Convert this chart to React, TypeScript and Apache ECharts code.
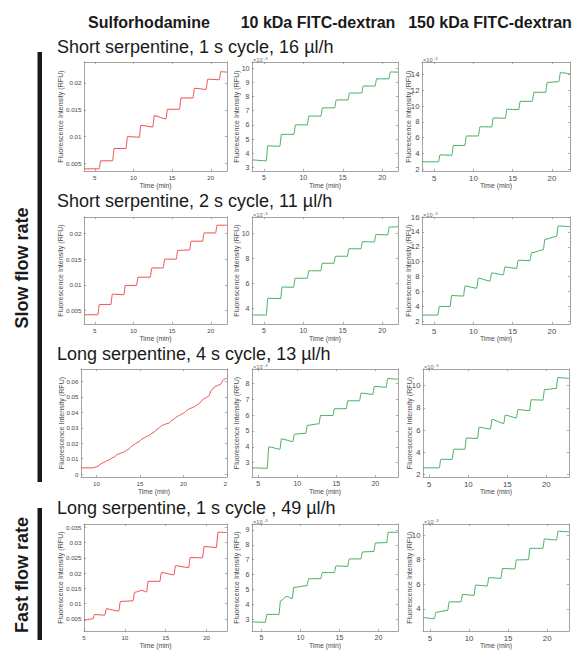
import React, { useEffect, useRef } from 'react';
import * as echarts from 'echarts';

// ---------- texts ----------
const columnTitles = ['Sulforhodamine', '10 kDa FITC-dextran', '150 kDa FITC-dextran'];
const rowTitles = [
  'Short serpentine, 1 s cycle, 16 µl/h',
  'Short serpentine, 2 s cycle, 11 µl/h',
  'Long serpentine, 4 s cycle, 13 µl/h',
  'Long serpentine, 1 s cycle , 49 µl/h',
];
const groupLabels = ['Slow flow rate', 'Fast flow rate'];
const xName = 'Time (min)';
const yName = 'Fluorescence Intensity (RFU)';

// ---------- tick labels ----------
const xTicks = [5, 10, 15, 20];
const xTicksLong = [10, 15, 20, 25];
const sulfoTicksShort = [0.005, 0.01, 0.015, 0.02];
const sulfoTicksLong4 = [0, 0.01, 0.02, 0.03, 0.04, 0.05, 0.06];
const sulfoTicksLong1 = [0.005, 0.01, 0.015, 0.02, 0.025, 0.03, 0.035];
const kda10TicksShort1 = [3, 4, 5, 6, 7, 8, 9, 10];
const kda10TicksShort2 = [4, 6, 8, 10];
const kda10TicksLong4 = [3, 4, 5, 6, 7, 8];
const kda10TicksLong1 = [3, 4, 5, 6, 7, 8, 9];
const kda150TicksShort1 = [2, 4, 6, 8, 10, 12, 14];
const kda150TicksShort2 = [2, 4, 6, 8, 10, 12, 14, 16];
const kda150TicksLong4 = [2, 4, 6, 8, 10];
const kda150TicksLong1 = [4, 6, 8, 10];

// ---------- axis extents (time in min, intensity in RFU or x10^-3 RFU) ----------
const sulfoShort1X = [3.6, 22.1];
const sulfoShort1Y = [0.0036, 0.0239];
const kda10Short1X = [3.5, 22.0];
const kda10Short1Y = [2.74, 10.44];
const kda150Short1X = [3.45, 22.3];
const kda150Short1Y = [1.75, 15.6];
const sulfoShort2X = [3.6, 22.1];
const sulfoShort2Y = [0.0024, 0.0232];
const kda10Short2X = [3.5, 22.0];
const kda10Short2Y = [2.74, 11.3];
const kda150Short2X = [3.45, 22.3];
const kda150Short2Y = [1.65, 16];
const sulfoLong4X = [8.22, 25];
const sulfoLong4Y = [-0.0018, 0.068];
const kda10Long4X = [4.2, 22.9];
const kda10Long4Y = [2.1, 8.9];
const kda150Long4X = [4.2, 22.9];
const kda150Long4Y = [1.78, 11.5];
const sulfoLong1X = [5, 22.5];
const sulfoLong1Y = [0.001, 0.0361];
const kda10Long1X = [3.8, 22.5];
const kda10Long1Y = [2.2, 9.4];
const kda150Long1X = [4.1, 22.8];
const kda150Long1Y = [2.2, 10.9];

// ---------- step data: T = step times (min), A = plateau start level, B = plateau end level ----------
const sulfoShort1T = [5.56, 7.3, 9.03, 10.75, 12.5, 14.2, 15.95, 17.7, 19.4, 21.1];
const sulfoShort1A = [0.004, 0.0055, 0.0078, 0.01, 0.0121, 0.0139, 0.0151, 0.0172, 0.019, 0.0207, 0.0221];
const sulfoShort1B = [0.004, 0.0055, 0.0078, 0.0099, 0.0118, 0.0133, 0.0151, 0.0172, 0.0188, 0.0206, 0.022];

const kda10Short1T = [5.3, 7.03, 8.81, 10.5, 12.23, 13.97, 15.66, 17.4, 19.09, 20.83];
const kda10Short1A = [3.53, 4.52, 5.33, 6.0, 6.62, 7.2, 7.76, 8.25, 8.75, 9.25, 9.74];
const kda10Short1B = [3.46, 4.49, 5.33, 6.0, 6.62, 7.2, 7.76, 8.25, 8.74, 9.25, 9.72];

const kda150Short1T = [5.55, 7.25, 8.9, 10.63, 12.33, 14.06, 15.76, 17.5, 19.2, 20.88];
const kda150Short1A = [2.92, 3.8, 5.0, 6.2, 7.37, 8.5, 9.6, 10.6, 11.75, 13.0, 14.25];
const kda150Short1B = [2.92, 3.75, 5.0, 6.2, 7.35, 8.45, 9.55, 10.6, 11.75, 13.1, 14.1];

const sulfoShort2T = [5.39, 7.07, 8.75, 10.39, 12.17, 13.85, 15.53, 17.26, 18.94, 20.62];
const sulfoShort2A = [0.0042, 0.0062, 0.0082, 0.0099, 0.0115, 0.0133, 0.015, 0.0167, 0.0185, 0.0201, 0.0216];
const sulfoShort2B = [0.0042, 0.0062, 0.0081, 0.0099, 0.0115, 0.0133, 0.015, 0.0168, 0.0185, 0.0201, 0.0216];

const kda10Short2T = [5.3, 7.12, 8.77, 10.5, 12.2, 13.88, 15.58, 17.3, 19.0, 20.7];
const kda10Short2A = [3.47, 4.8, 5.7, 6.4, 7.0, 7.6, 8.16, 8.76, 9.33, 9.9, 10.5];
const kda10Short2B = [3.45, 4.78, 5.68, 6.4, 7.0, 7.6, 8.16, 8.76, 9.3, 9.87, 10.52];

const kda150Short2T = [5.47, 7.03, 8.73, 10.42, 12.12, 13.81, 15.5, 17.2, 18.9, 20.59];
const kda150Short2A = [2.85, 4.0, 5.47, 6.75, 7.8, 8.5, 9.3, 10.2, 11.2, 13.0, 14.8];
const kda150Short2B = [2.85, 4.0, 5.4, 6.45, 7.4, 8.25, 9.1, 10.15, 11.6, 13.4, 14.7];

const sulfoLong4Points = [
  [8.22, 0.0041], [9.61, 0.0041], [10.0, 0.0048], [10.77, 0.0074], [11.34, 0.0091], [11.92, 0.0108],
  [12.49, 0.013], [13.07, 0.0141], [13.64, 0.016], [14.22, 0.0189], [14.8, 0.0208], [15.37, 0.0232],
  [15.95, 0.0249], [16.53, 0.0269], [17.1, 0.0297], [17.68, 0.0319], [18.26, 0.0329], [18.84, 0.0355],
  [19.41, 0.0377], [19.99, 0.0394], [20.57, 0.042], [21.14, 0.0433], [21.72, 0.0453], [22.3, 0.0486],
  [22.87, 0.0503], [23.26, 0.0546], [23.64, 0.0568], [24.22, 0.0579], [24.6, 0.0611], [24.99, 0.0622],
];

const kda10Long4T = [6.15, 7.77, 9.43, 11.08, 12.78, 14.57, 16.27, 17.97, 19.67, 21.38];
const kda10Long4A = [2.68, 4.0, 4.5, 4.8, 5.35, 5.97, 6.4, 6.9, 7.38, 7.8, 8.3];
const kda10Long4B = [2.65, 3.85, 4.33, 4.85, 5.45, 5.97, 6.4, 6.9, 7.3, 7.75, 8.25];

const kda150Long4T = [6.28, 7.94, 9.56, 11.18, 12.84, 14.54, 16.16, 17.86, 19.56, 21.27];
const kda150Long4A = [2.6, 3.37, 4.28, 5.29, 6.26, 6.96, 7.35, 7.85, 8.73, 9.64, 10.73];
const kda150Long4B = [2.6, 3.37, 4.28, 5.25, 6.1, 6.6, 7.1, 7.75, 8.7, 9.75, 10.65];

const sulfoLong1T = [6.1, 7.54, 9.25, 11.0, 12.65, 14.28, 16.0, 17.8, 19.5, 21.2];
const sulfoLong1A = [0.0045, 0.0064, 0.0083, 0.0107, 0.0137, 0.0173, 0.0202, 0.0224, 0.0251, 0.0287, 0.0334];
const sulfoLong1B = [0.005, 0.0062, 0.0075, 0.0109, 0.0138, 0.0173, 0.0194, 0.0218, 0.025, 0.0284, 0.0333];
const sulfoLong1Extra = [[12.1, 0.0143]];

const kda10Long1T = [5.5, 7.25, 8.95, 10.85, 12.6, 14.35, 16.05, 17.75, 19.4, 21.05];
const kda10Long1A = [2.82, 3.32, 4.22, 5.13, 5.72, 6.13, 6.58, 7.05, 7.52, 8.12, 8.84];
const kda10Long1B = [2.78, 3.32, 4.38, 5.25, 5.72, 6.13, 6.55, 7.05, 7.55, 8.15, 8.84];
const kda10Long1Extra = [[8.25, 4.53]];

const kda150Long1T = [5.55, 7.26, 8.96, 10.63, 12.33, 14.08, 15.87, 17.6, 19.45, 21.2];
const kda150Long1A = [3.31, 3.72, 4.57, 5.17, 5.93, 6.54, 7.28, 7.98, 8.92, 9.68, 10.31];
const kda150Long1B = [3.2, 3.88, 4.57, 5.1, 5.86, 6.48, 7.25, 8.0, 8.92, 9.6, 10.26];

// ---------- styles / layout ----------
const FONT = '"Liberation Sans", Arial, Helvetica, sans-serif';
const RED = '#ec3a37';
const GREEN = '#2fa74b';
const AXIS = '#8c8c8c';
const LABEL = '#4a4a4a';
const RISE = 0.2;

const colLeft = [84, 252, 422];
const colWidth = [143, 146, 148];
const rowTop = [62, 217, 369, 524];
const rowHeight = [109, 107, 108, 107];
const tickFont = [6.2, 7, 7.8];
const yNameGap = [19.5, 11.5, 9.5];

function stairs(T: number[], A: number[], B: number[], ext: number[], extra: number[][] = []) {
  const pts: number[][] = [[ext[0], A[0]]];
  T.forEach((t, i) => {
    pts.push([t, B[i]]);
    pts.push([t + RISE, A[i + 1]]);
  });
  pts.push([ext[1], B[B.length - 1]]);
  extra.forEach((p) => pts.push(p));
  pts.sort((a, b) => a[0] - b[0]);
  return pts;
}

type Panel = { row: number; col: number; x: number[]; y: number[]; xt: number[]; yt: number[]; data: number[][]; exp: boolean };

const panels: Panel[] = [
  { row: 0, col: 0, x: sulfoShort1X, y: sulfoShort1Y, xt: xTicks, yt: sulfoTicksShort, data: stairs(sulfoShort1T, sulfoShort1A, sulfoShort1B, sulfoShort1X), exp: false },
  { row: 0, col: 1, x: kda10Short1X, y: kda10Short1Y, xt: xTicks, yt: kda10TicksShort1, data: stairs(kda10Short1T, kda10Short1A, kda10Short1B, kda10Short1X), exp: true },
  { row: 0, col: 2, x: kda150Short1X, y: kda150Short1Y, xt: xTicks, yt: kda150TicksShort1, data: stairs(kda150Short1T, kda150Short1A, kda150Short1B, kda150Short1X), exp: true },
  { row: 1, col: 0, x: sulfoShort2X, y: sulfoShort2Y, xt: xTicks, yt: sulfoTicksShort, data: stairs(sulfoShort2T, sulfoShort2A, sulfoShort2B, sulfoShort2X), exp: false },
  { row: 1, col: 1, x: kda10Short2X, y: kda10Short2Y, xt: xTicks, yt: kda10TicksShort2, data: stairs(kda10Short2T, kda10Short2A, kda10Short2B, kda10Short2X), exp: true },
  { row: 1, col: 2, x: kda150Short2X, y: kda150Short2Y, xt: xTicks, yt: kda150TicksShort2, data: stairs(kda150Short2T, kda150Short2A, kda150Short2B, kda150Short2X), exp: true },
  { row: 2, col: 0, x: sulfoLong4X, y: sulfoLong4Y, xt: xTicksLong, yt: sulfoTicksLong4, data: sulfoLong4Points, exp: false },
  { row: 2, col: 1, x: kda10Long4X, y: kda10Long4Y, xt: xTicks, yt: kda10TicksLong4, data: stairs(kda10Long4T, kda10Long4A, kda10Long4B, kda10Long4X), exp: true },
  { row: 2, col: 2, x: kda150Long4X, y: kda150Long4Y, xt: xTicks, yt: kda150TicksLong4, data: stairs(kda150Long4T, kda150Long4A, kda150Long4B, kda150Long4X), exp: true },
  { row: 3, col: 0, x: sulfoLong1X, y: sulfoLong1Y, xt: xTicks, yt: sulfoTicksLong1, data: stairs(sulfoLong1T, sulfoLong1A, sulfoLong1B, sulfoLong1X, sulfoLong1Extra), exp: false },
  { row: 3, col: 1, x: kda10Long1X, y: kda10Long1Y, xt: xTicks, yt: kda10TicksLong1, data: stairs(kda10Long1T, kda10Long1A, kda10Long1B, kda10Long1X, kda10Long1Extra), exp: true },
  { row: 3, col: 2, x: kda150Long1X, y: kda150Long1Y, xt: xTicks, yt: kda150TicksLong1, data: stairs(kda150Long1T, kda150Long1A, kda150Long1B, kda150Long1X), exp: true },
];

function gridRect(p: Panel) {
  let left = colLeft[p.col];
  let width = colWidth[p.col];
  if (p.row === 2 && p.col === 0) { left = 81; width = 146; }
  if (p.row >= 2 && p.col === 2) { left = 423; width = 146; }
  return { left, top: rowTop[p.row], width, height: rowHeight[p.row] };
}

function fmtY(v: number) {
  return String(+v.toFixed(4));
}

function buildOption() {
  const grid: any[] = [];
  const xAxis: any[] = [];
  const yAxis: any[] = [];
  const series: any[] = [];
  const graphic: any[] = [];
  const lineStyle = { color: AXIS, width: 0.8 };
  const tickStyle = { color: '#7a7a7a', width: 0.6 };

  panels.forEach((p, i) => {
    const r = gridRect(p);
    grid.push({ ...r, show: false, containLabel: false, outerBoundsMode: 'none' });
    const fs = tickFont[p.col];
    const gapY = p.row === 2 && p.col === 0 ? 16 : yNameGap[p.col];
    const common = { gridIndex: i, type: 'value', splitLine: { show: false } };
    xAxis.push({
      ...common, position: 'bottom', min: p.x[0], max: p.x[1],
      axisLine: { show: true, onZero: false, lineStyle },
      axisTick: { show: true, inside: true, length: 2.2, customValues: p.xt, lineStyle: tickStyle },
      axisLabel: { show: true, customValues: p.xt, fontSize: fs, color: LABEL, margin: 3, fontFamily: FONT, showMinLabel: true, showMaxLabel: true },
      name: xName, nameLocation: 'middle', nameGap: 10.5, nameMoveOverlap: false,
      nameTextStyle: { fontSize: 6.8, color: LABEL, fontFamily: FONT },
    });
    xAxis.push({
      ...common, position: 'top', min: p.x[0], max: p.x[1],
      axisLine: { show: true, onZero: false, lineStyle },
      axisTick: { show: true, inside: true, length: 2.2, customValues: p.xt, lineStyle: tickStyle },
      axisLabel: { show: false },
    });
    yAxis.push({
      ...common, position: 'left', min: p.y[0], max: p.y[1],
      axisLine: { show: true, onZero: false, lineStyle },
      axisTick: { show: true, inside: true, length: 2.2, customValues: p.yt, lineStyle: tickStyle },
      axisLabel: { show: true, customValues: p.yt, fontSize: fs, color: LABEL, margin: 2.5, fontFamily: FONT, formatter: fmtY },
      name: yName, nameLocation: 'middle', nameGap: gapY, nameMoveOverlap: false,
      nameTextStyle: { fontSize: 7.1, color: LABEL, fontFamily: FONT },
    });
    yAxis.push({
      ...common, position: 'right', min: p.y[0], max: p.y[1],
      axisLine: { show: true, onZero: false, lineStyle },
      axisTick: { show: true, inside: true, length: 2.2, customValues: p.yt, lineStyle: tickStyle },
      axisLabel: { show: false },
    });
    series.push({
      type: 'line', xAxisIndex: 2 * i, yAxisIndex: 2 * i, data: p.data,
      showSymbol: false, symbol: 'none', smooth: 0.25, smoothMonotone: 'x', clip: true, silent: true,
      lineStyle: { color: p.col === 0 ? RED : GREEN, width: 0.9 },
    });
    if (p.exp) {
      graphic.push({ type: 'text', x: r.left + 1, y: r.top + 0.6, silent: true,
        style: { text: '×10', fontSize: 5.6, lineHeight: 5.6, fontFamily: FONT, fill: '#666', align: 'left', verticalAlign: 'bottom' } });
      graphic.push({ type: 'text', x: r.left + 11.8, y: r.top - 1.8, silent: true,
        style: { text: '-3', fontSize: 4.2, lineHeight: 4.2, fontFamily: FONT, fill: '#666', align: 'left', verticalAlign: 'bottom' } });
    }
  });

  // column headers
  const headerX = [149, 318, 490];
  columnTitles.forEach((t, c) => {
    graphic.push({ type: 'text', x: headerX[c], y: 22, silent: true,
      style: { text: t, fontSize: 16, fontWeight: 'bold', fontFamily: FONT, fill: '#1a1a1a', align: 'center', verticalAlign: 'middle' } });
  });
  // row titles
  const titleY = [47, 201, 354, 508];
  rowTitles.forEach((t, r) => {
    graphic.push({ type: 'text', x: 57, y: titleY[r], silent: true,
      style: { text: t, fontSize: 18, lineHeight: 14, fontFamily: FONT, fill: '#1a1a1a', align: 'left', verticalAlign: 'middle' } });
  });
  // group bars and labels
  graphic.push({ type: 'rect', silent: true, shape: { x: 37.5, y: 52, width: 4.5, height: 430 }, style: { fill: '#1a1a1a' } });
  graphic.push({ type: 'rect', silent: true, shape: { x: 37.5, y: 508, width: 4.5, height: 132 }, style: { fill: '#1a1a1a' } });
  const groupY = [268, 575];
  groupLabels.forEach((t, g) => {
    graphic.push({ type: 'text', x: 22, y: groupY[g], rotation: Math.PI / 2, silent: true,
      style: { text: t, fontSize: 18, fontWeight: 'bold', fontFamily: FONT, fill: '#1a1a1a', align: 'center', verticalAlign: 'middle' } });
  });
  // the original figure clips the last x tick label of the long 4 s Sulforhodamine panel
  graphic.push({ type: 'rect', silent: true, z: 100, shape: { x: 227.2, y: 479, width: 6, height: 10 }, style: { fill: '#ffffff' } });

  return { animation: false, backgroundColor: '#ffffff', grid, xAxis, yAxis, series, graphic };
}

export default function App() {
  const ref = useRef<HTMLDivElement>(null);
  useEffect(() => {
    if (!ref.current) return;
    const chart = echarts.init(ref.current, null, { renderer: 'svg' });
    chart.setOption(buildOption() as any);
    return () => chart.dispose();
  }, []);
  return <div ref={ref} style={{ position: 'fixed', left: 0, top: 0, width: 578, height: 650, background: '#fff' }} />;
}
